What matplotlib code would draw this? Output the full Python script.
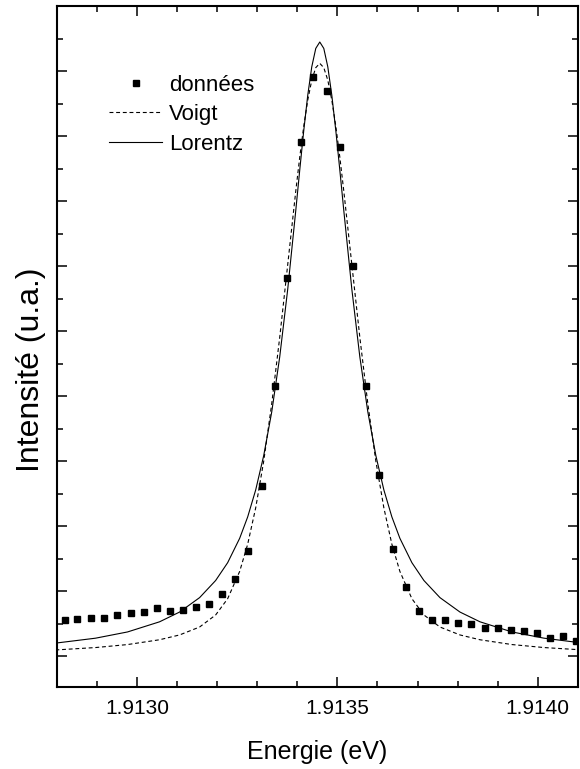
import matplotlib

matplotlib.use("Agg")
import matplotlib.pyplot as plt
from matplotlib.lines import Line2D
from matplotlib.ticker import FormatStrFormatter, MultipleLocator

# measured points (eV, arbitrary units)
DATA_ENERGY = [
    1.912819, 1.912851, 1.912884, 1.912917, 1.912949, 1.912984, 1.913016, 1.913049,
    1.913081, 1.913114, 1.913147, 1.913179, 1.913212, 1.913245, 1.913278, 1.913311,
    1.913344, 1.913375, 1.913409, 1.913440, 1.913474, 1.913507, 1.913538, 1.913571,
    1.913604, 1.913639, 1.913671, 1.913704, 1.913737, 1.913769, 1.913802, 1.913834,
    1.913869, 1.913901, 1.913934, 1.913966, 1.913999, 1.914031, 1.914064, 1.914096,
]
DATA_INTENSITY = [
    0.554, 0.574, 0.585, 0.585, 0.635, 0.666, 0.682, 0.743,
    0.697, 0.718, 0.758, 0.811, 0.958, 1.185, 1.620, 2.620,
    4.158, 5.820, 7.908, 8.912, 8.697, 7.835, 6.005, 4.158,
    2.785, 1.642, 1.066, 0.697, 0.554, 0.565, 0.512, 0.503,
    0.435, 0.431, 0.400, 0.389, 0.358, 0.282, 0.312, 0.235,
]

# fitted curves
FIT_ENERGY = [
    1.912796, 1.912896, 1.912976, 1.913056, 1.913106, 1.913156, 1.913196, 1.913226,
    1.913256, 1.913276, 1.913296, 1.913316, 1.913336, 1.913356, 1.913376, 1.913396,
    1.913406, 1.913416, 1.913426, 1.913436, 1.913446, 1.913456, 1.913466, 1.913476,
    1.913486, 1.913496, 1.913506, 1.913516, 1.913536, 1.913556, 1.913576, 1.913596,
    1.913616, 1.913636, 1.913656, 1.913686, 1.913716, 1.913756, 1.913806, 1.913856,
    1.913936, 1.914016, 1.914106,
]
VOIGT_INTENSITY = [
    0.097, 0.134, 0.180, 0.254, 0.328, 0.450, 0.635, 0.885,
    1.305, 1.723, 2.282, 3.000, 3.881, 4.905, 6.025, 7.151,
    7.677, 8.152, 8.553, 8.860, 9.052, 9.118, 9.052, 8.860,
    8.553, 8.152, 7.677, 7.151, 6.025, 4.905, 3.881, 3.000,
    2.282, 1.723, 1.305, 0.885, 0.635, 0.450, 0.328, 0.254,
    0.180, 0.134, 0.100,
]
LORENTZ_INTENSITY = [
    0.202, 0.278, 0.374, 0.530, 0.680, 0.902, 1.165, 1.439,
    1.814, 2.143, 2.558, 3.085, 3.756, 4.604, 5.646, 6.851,
    7.479, 8.085, 8.629, 9.065, 9.348, 9.446, 9.348, 9.065,
    8.629, 8.085, 7.479, 6.851, 5.646, 4.604, 3.756, 3.085,
    2.558, 2.143, 1.814, 1.439, 1.165, 0.902, 0.680, 0.530,
    0.374, 0.278, 0.208,
]

X_LIMITS = (1.9128, 1.9141)
Y_LIMITS = (-0.48, 10.0)


def draw(axis):
    axis.plot(DATA_ENERGY, DATA_INTENSITY, linestyle="none", marker="s",
              markersize=5, color="black", label="données", zorder=3)
    axis.plot(FIT_ENERGY, VOIGT_INTENSITY, color="black", linewidth=0.8,
              linestyle=(0, (3.5, 2.5)), label="Voigt")
    axis.plot(FIT_ENERGY, LORENTZ_INTENSITY, color="black", linewidth=0.8,
              label="Lorentz")

    axis.set_xlim(*X_LIMITS)
    axis.set_ylim(*Y_LIMITS)
    axis.xaxis.set_major_locator(MultipleLocator(0.0005))
    axis.xaxis.set_minor_locator(MultipleLocator(0.0001))
    axis.xaxis.set_major_formatter(FormatStrFormatter("%.4f"))
    axis.yaxis.set_major_locator(MultipleLocator(1.0))
    axis.yaxis.set_minor_locator(MultipleLocator(0.5))
    axis.tick_params(which="both", direction="in", top=True, right=True,
                     width=1.1, labelleft=False)
    axis.tick_params(which="major", length=7.5, labelsize=15, pad=8)
    axis.tick_params(which="minor", length=4.5)
    for spine in axis.spines.values():
        spine.set_linewidth(1.5)

    axis.set_xlabel("Energie (eV)", fontsize=18, labelpad=16)
    axis.set_ylabel("Intensité (u.a.)", fontsize=23)
    axis.yaxis.set_label_coords(-0.022, 0.466)

    handles = [
        Line2D([], [], linestyle="none", marker="s", markersize=5, color="black"),
        Line2D([], [], color="black", linewidth=0.8, linestyle=(0, (3.5, 2.5))),
        Line2D([], [], color="black", linewidth=0.8),
    ]
    axis.legend(handles, ["données", "Voigt", "Lorentz"], loc="upper left",
                bbox_to_anchor=(0.10, 0.899), frameon=False, fontsize=16,
                handlelength=2.4, handletextpad=0.3, labelspacing=0.38,
                borderpad=0, borderaxespad=0)


def main():
    plt.rcParams["font.family"] = ["Liberation Sans", "DejaVu Sans"]
    fig = plt.figure(figsize=(5.8, 7.69), dpi=100)
    axis = fig.add_axes([0.0983, 0.1060, 0.8978, 0.8862])
    draw(axis)
    fig.savefig("out.png", dpi=100)
    plt.close(fig)


if __name__ == "__main__":
    main()
